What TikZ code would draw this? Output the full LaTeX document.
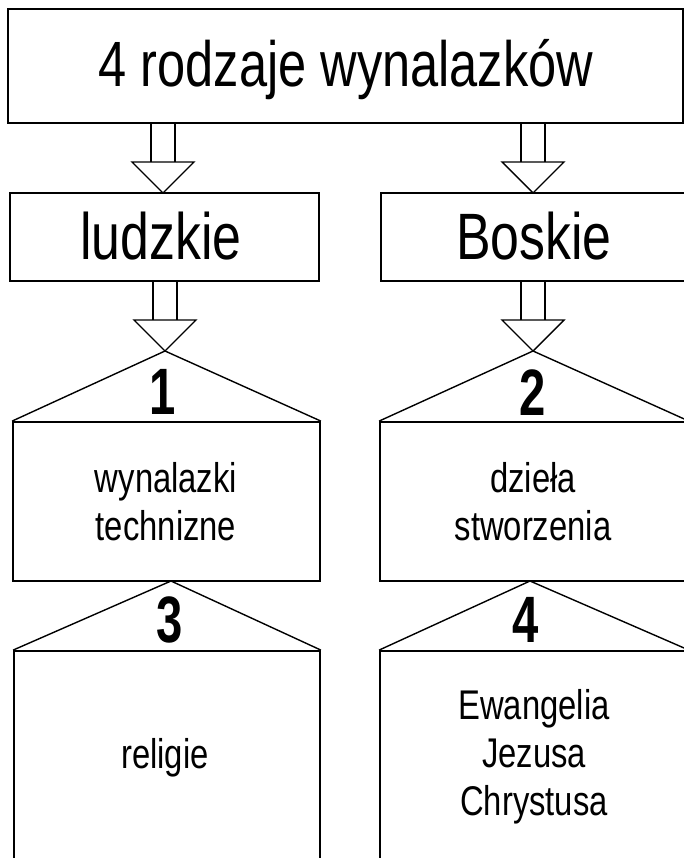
\documentclass[tikz,border=0pt]{standalone}
\usepackage{fontspec}
\setmainfont{Liberation Sans}[FakeStretch=0.79]
\newfontfamily\digitfont{Liberation Sans}[FakeStretch=0.72]
\newcommand\bigtxt{\fontsize{64}{70}\selectfont}
\newcommand\midtxt{\fontsize{65.6}{72}\selectfont}
\newcommand\smalltxt{\fontsize{41.5}{48}\selectfont}
\newcommand\digtxt{\digitfont\bfseries\fontsize{65.6}{72}\selectfont}
\newcommand\dblarrow[2]{%
  \draw[shaft] ([xshift=-12pt]#1.south -| #2) -- ([xshift=-12pt,yshift=31pt]#2);
  \draw[shaft] ([xshift=12pt]#1.south -| #2) -- ([xshift=12pt,yshift=31pt]#2);
  \draw[shaft] ([xshift=-31pt,yshift=31pt]#2) -- ([xshift=31pt,yshift=31pt]#2) -- (#2) -- cycle;
}
\begin{document}
\begin{tikzpicture}[x=1pt,y=-1pt,
  box/.style={draw, line width=1.8pt, inner sep=0pt},
  shaft/.style={draw, line width=1.4pt, line join=miter},
  roof/.style={draw, line width=1.4pt},
  txt/.style={inner sep=0pt, anchor=base}]
\useasboundingbox (0,0) rectangle (684,858);
\clip (0,0) rectangle (684,858);
% boxes
\node[box, minimum width=675pt, minimum height=114pt] (top) at (345.5,66) {};
\node[box, minimum width=309pt, minimum height=88pt] (lud) at (164.5,237) {};
\node[box, minimum width=307pt, minimum height=88pt] (bos) at (534.5,237) {};
\node[box, minimum width=307pt, minimum height=159pt] (b1) at (166.5,501.5) {};
\node[box, minimum width=308pt, minimum height=159pt] (b2) at (534,501.5) {};
\node[box, minimum width=306pt, minimum height=210pt] (b3) at (167,756) {};
\node[box, minimum width=308pt, minimum height=210pt] (b4) at (534,756) {};
% arrow tips and roof apexes
\coordinate (tA) at (163,193);
\coordinate (tB) at (533,193);
\coordinate (tC) at (165,351);
\coordinate (tD) at (533,351);
\coordinate (r3) at (171,581);
\coordinate (r4) at (530,581);
% double arrows
\dblarrow{top}{tA}
\dblarrow{top}{tB}
\dblarrow{lud}{tC}
\dblarrow{bos}{tD}
% roofs
\draw[roof] (b1.north west) -- (tC) -- (b1.north east);
\draw[roof] (b2.north west) -- (tD) -- (b2.north east);
\draw[roof] (b3.north west) -- (r3) -- (b3.north east);
\draw[roof] (b4.north west) -- (r4) -- (b4.north east);
% texts
\node[txt] (ttop) at (346,87) {\bigtxt 4 rodzaje wynalazków};
\node[txt] (tlud) at (161,260) {\midtxt ludzkie};
\node[txt] (tbos) at (534,260) {\midtxt Boskie};
\node[txt] (d1) at (163,414) {\digtxt 1};
\node[txt] (d2) at (533,415) {\digtxt 2};
\node[txt] (d3) at (170,642) {\digtxt 3};
\node[txt] (d4) at (525.5,642) {\digtxt 4};
\node[txt] (w1) at (166,492) {\smalltxt wynalazki};
\node[txt] (w2) at (166,540) {\smalltxt technizne};
\node[txt] (s1) at (533,492) {\smalltxt dzieła};
\node[txt] (s2) at (533,540) {\smalltxt stworzenia};
\node[txt] (rel) at (165,768) {\smalltxt religie};
\node[txt] (e1) at (534,719) {\smalltxt Ewangelia};
\node[txt] (e2) at (534,767) {\smalltxt Jezusa};
\node[txt] (e3) at (534,815) {\smalltxt Chrystusa};
\end{tikzpicture}
\end{document}
